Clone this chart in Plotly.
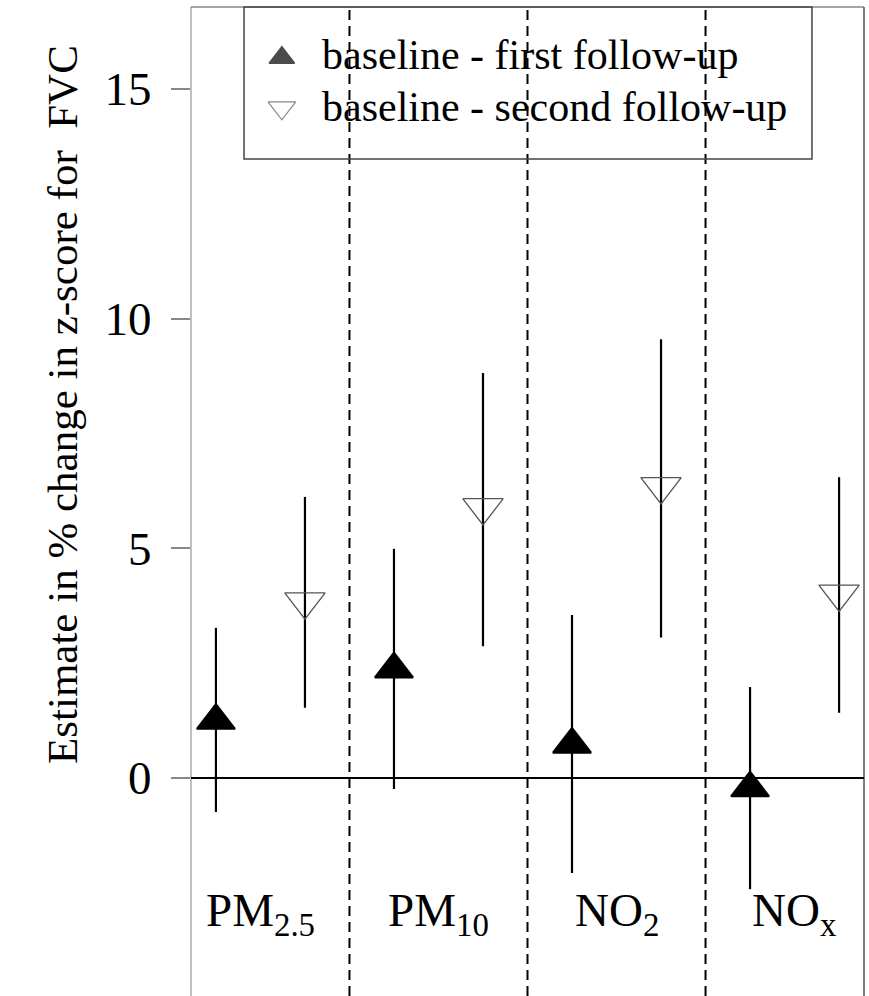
import plotly.graph_objects as go

# ---- data ----
pollutants = ["PM<sub>2.5</sub>", "PM<sub>10</sub>", "NO<sub>2</sub>", "NO<sub>x</sub>"]
series_names = ["baseline - first follow-up", "baseline - second follow-up"]

first_est = [1.25, 2.37, 0.73, -0.22]
first_lo = [-0.74, -0.24, -2.07, -2.42]
first_hi = [3.27, 4.99, 3.55, 1.98]

second_est = [3.84, 5.89, 6.35, 4.01]
second_lo = [1.53, 2.87, 3.06, 1.42]
second_hi = [6.12, 8.82, 9.55, 6.55]

y_ticks = [0, 5, 10, 15]
y_title = "Estimate in % change in z-score for  FVC"

# positions: two estimates per pollutant
x_first = [2 * i + 1 for i in range(len(pollutants))]
x_second = [2 * i + 2 for i in range(len(pollutants))]
x_label = [2 * i + 1.5 for i in range(len(pollutants))]
x_sep = [2 * i + 2.5 for i in range(len(pollutants) - 1)]

FONT = "Liberation Serif, Times New Roman, serif"

fig = go.Figure()

fig.add_trace(go.Scatter(
    x=x_first, y=first_est, mode="markers", name=series_names[0], showlegend=False,
    marker=dict(symbol="triangle-up", size=33, color="black", line=dict(color="black", width=2)),
    error_y=dict(type="data", symmetric=False,
                 array=[h - e for h, e in zip(first_hi, first_est)],
                 arrayminus=[e - l for e, l in zip(first_est, first_lo)],
                 width=0, thickness=2.2, color="black"),
))
fig.add_trace(go.Scatter(
    x=x_second, y=second_est, mode="markers", name=series_names[1], showlegend=False,
    marker=dict(symbol="triangle-down-open", size=35, color="#555555", line=dict(color="#555555", width=1.3)),
    error_y=dict(type="data", symmetric=False,
                 array=[h - e for h, e in zip(second_hi, second_est)],
                 arrayminus=[e - l for e, l in zip(second_est, second_lo)],
                 width=0, thickness=2.2, color="black"),
))

# legend symbols (manual legend on an overlay axis in paper-like units)
fig.add_trace(go.Scatter(
    x=[0.135, 0.135], y=[0.9487, 0.898], xaxis="x2", yaxis="y2", mode="markers",
    showlegend=False, hoverinfo="skip",
    marker=dict(symbol=["triangle-up", "triangle-down-open"], size=[22, 24],
                color=["black", "#555555"],
                line=dict(color=["black", "#555555"], width=[1.5, 1.2])),
))

shapes = []
# separators
for xs in x_sep:
    shapes.append(dict(type="line", xref="x", yref="paper", x0=xs, x1=xs, y0=0, y1=1,
                       line=dict(color="black", width=2, dash="10px,6px")))
# frame
shapes.append(dict(type="line", xref="paper", yref="paper", x0=0, x1=0, y0=0, y1=1,
                   line=dict(color="#aaaaaa", width=1.5)))
shapes.append(dict(type="line", xref="paper", yref="paper", x0=0, x1=1, y0=1, y1=1,
                   line=dict(color="#888888", width=1.5)))
shapes.append(dict(type="line", xref="paper", yref="paper", x0=1, x1=1, y0=0, y1=1,
                   line=dict(color="#555555", width=1.5)))
# zero line
shapes.append(dict(type="line", xref="paper", yref="y", x0=0, x1=1, y0=0, y1=0,
                   line=dict(color="black", width=2)))
# legend box
shapes.append(dict(type="rect", xref="paper", yref="paper", x0=0.0788, x1=0.9227, y0=0.8463, y1=1,
                   line=dict(color="#444444", width=1.5), fillcolor="rgba(0,0,0,0)"))

annotations = []
for xl, lab in zip(x_label, pollutants):
    annotations.append(dict(x=xl, y=-2.94, xref="x", yref="y", text=lab, showarrow=False,
                            font=dict(family=FONT, size=47, color="black"),
                            xanchor="center", yanchor="middle"))
annotations.append(dict(x=0.1917, y=0.951, xref="paper", yref="paper", text=series_names[0],
                        showarrow=False, xanchor="left", yanchor="middle",
                        font=dict(family=FONT, size=42, color="black")))
annotations.append(dict(x=0.1917, y=0.8989, xref="paper", yref="paper", text=series_names[1],
                        showarrow=False, xanchor="left", yanchor="middle",
                        font=dict(family=FONT, size=42, color="black")))
annotations.append(dict(x=(62 - 191) / 673, y=(996 - 405) / 989, xref="paper", yref="paper",
                        text=y_title, showarrow=False, textangle=-90,
                        xanchor="center", yanchor="middle",
                        font=dict(family=FONT, size=43, color="black")))

fig.update_layout(
    width=869, height=996,
    margin=dict(l=191, r=5, t=7, b=0),
    paper_bgcolor="white", plot_bgcolor="white",
    showlegend=False,
    xaxis=dict(range=[0.72, 8.28], showgrid=False, zeroline=False, showline=False,
               showticklabels=False, ticks=""),
    yaxis=dict(range=[-4.746, 16.786], tickvals=y_ticks, ticktext=[str(t) for t in y_ticks],
               showgrid=False, zeroline=False, showline=False,
               ticks="outside", ticklen=19, tickwidth=1.5, tickcolor="#888888",
               ticklabelstandoff=10,
               tickfont=dict(family=FONT, size=47, color="black")),
    xaxis2=dict(range=[0, 1], overlaying="x", visible=False, domain=[0, 1]),
    yaxis2=dict(range=[0, 1], overlaying="y", visible=False, domain=[0, 1]),
    shapes=shapes,
    annotations=annotations,
)

fig.write_html("out.html")
